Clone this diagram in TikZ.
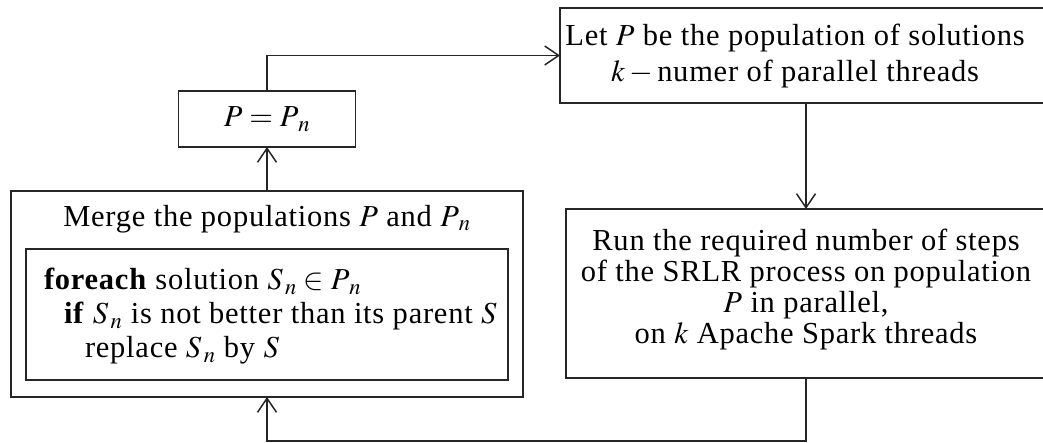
\documentclass[tikz,border=0pt]{standalone}
\usepackage{mathptmx}
\usepackage{fontspec}
\setmainfont{Liberation Serif}
\usetikzlibrary{arrows.meta}
% subscripted population / solution symbols
\newcommand\popn{P_{\mkern3mu n}}
\newcommand\soln{S_{\mkern2mu n}}

\begin{document}
\begin{tikzpicture}[x=1pt,y=-1pt,
  every node/.style={inner sep=0pt,outer sep=0pt},
  box/.style={draw=black!85,line width=1.5pt,rectangle},
  txt/.style={font=\fontsize{30.5}{34}\selectfont\addfontfeatures{LetterSpace=2.5},align=center},
  flow/.style={draw=black!85,line width=1.5pt,
    -{Straight Barb[length=14pt,width=19pt]}}]
  \useasboundingbox (0,0) rectangle (1043,443);
  \clip (0,0) rectangle (1043,443);

  % boxes
  \node[box,minimum width=492pt,minimum height=95pt] (init) at (806,55.5) {};
  \node[box,minimum width=480pt,minimum height=169pt] (run) at (806,293.5) {};
  \node[box,minimum width=512pt,minimum height=206pt] (merge) at (267,294) {};
  \node[box,minimum width=482pt,minimum height=131pt] (rule) at (267,314.5) {};
  \node[box,minimum width=177pt,minimum height=56pt] (assign) at (267,119) {};

  % texts
  \node[txt,font=\fontsize{30.5}{36}\selectfont\addfontfeatures{LetterSpace=2.5}] (initT) at (795,56)
    {Let $P$ be the population of solutions\\
    $k-{}$numer of parallel threads};
  \node[txt,font=\fontsize{30.5}{31}\selectfont\addfontfeatures{LetterSpace=2.5}] (runT) at (806,290)
    {Run the required number of steps\\
    of the SRLR process on population\\
    $P$ in parallel,\\
    on $k$ Apache Spark threads};
  \node[txt] (mergeT) at (267,219) {Merge the populations $P$ and $\popn$};
  \node[txt,align=left,anchor=west] (ruleT) at (44,316)
    {\textbf{foreach} solution $\soln\in \popn$\\
     \hspace*{20pt}\textbf{if} $\soln$ is not better than its parent $S$\\
     \hspace*{41pt}replace $\soln$ by $S$};
  \node[txt] (assignT) at (267,119) {$P=\popn$};

  % connectors
  \draw[flow] (assign.north) |- (init.west);
  \draw[flow] (init.south) -- (run.north);
  \draw[flow] (run.south) -- ++(0,63) -| (merge.south);
  \draw[flow] (merge.north) -- (assign.south);
\end{tikzpicture}
\end{document}
